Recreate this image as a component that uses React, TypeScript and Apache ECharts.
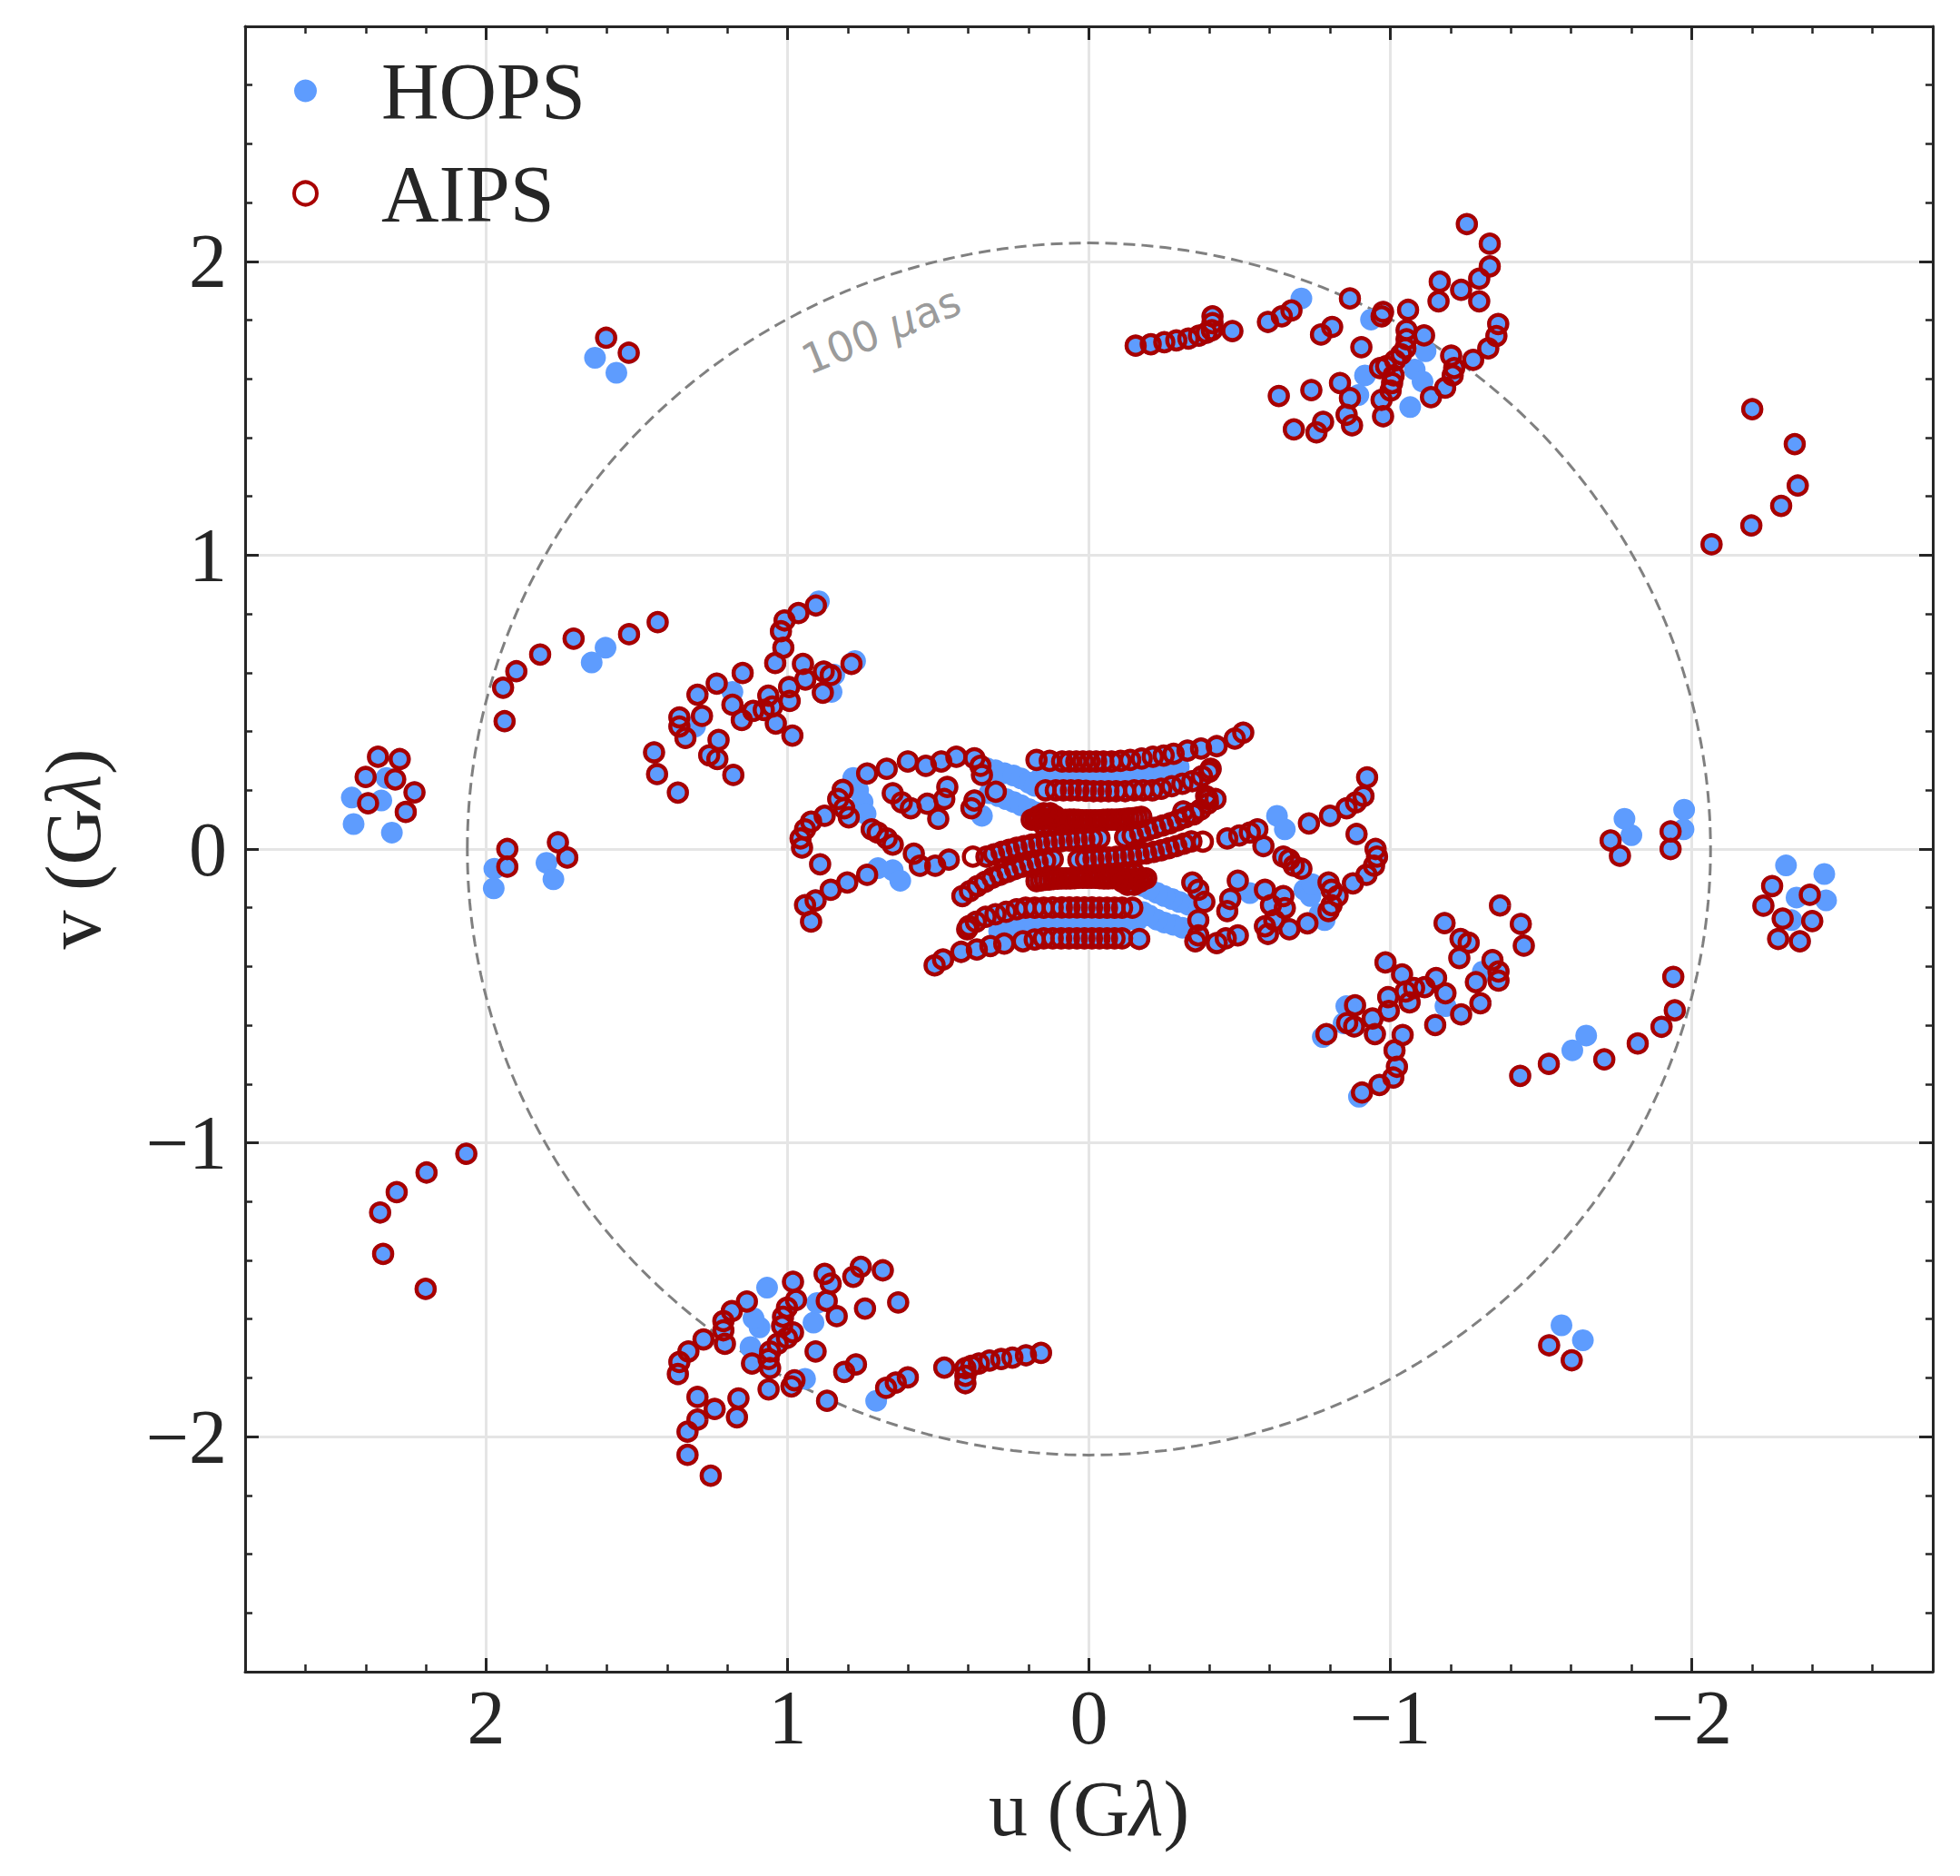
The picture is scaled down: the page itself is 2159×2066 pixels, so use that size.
import { useEffect, useRef } from 'react';
import * as echarts from 'echarts';

type UV = [number, number];

// ---------- (u, v) samples in Gλ ----------
// Points seen by both pipelines, points only in HOPS, points only in AIPS.

// Long baselines, far west / far east
const westKnotBoth: UV[] = [[2.359, 0.314], [2.287, 0.306], [2.400, 0.245], [2.302, 0.237], [2.238, 0.193], [2.392, 0.156], [2.267, 0.126]];
const westKnotHops: UV[] = [[2.331, 0.242], [2.348, 0.165], [2.446, 0.175], [2.440, 0.085], [2.313, 0.056]];
const eastKnotBoth: UV[] = [[-2.359, -0.314], [-2.287, -0.306], [-2.400, -0.245], [-2.302, -0.237], [-2.238, -0.193], [-2.392, -0.156], [-2.267, -0.126]];
const eastKnotHops: UV[] = [[-2.331, -0.242], [-2.348, -0.165], [-2.446, -0.175], [-2.440, -0.085], [-2.313, -0.056]];

const westAxisBoth: UV[] = [[1.930, 0.000], [1.930, -0.060], [1.762, 0.023], [1.731, -0.029]];
const westAxisHops: UV[] = [[1.973, -0.067], [1.975, -0.134], [1.800, -0.047], [1.777, -0.103]];
const eastAxisBoth: UV[] = [[-1.930, 0.000], [-1.930, 0.060], [-1.762, -0.023], [-1.731, 0.029]];
const eastAxisHops: UV[] = [[-1.973, 0.067], [-1.975, 0.134], [-1.800, 0.047], [-1.777, 0.103]];

const westArcBoth: UV[] = [[1.431, 0.772], [1.526, 0.731], [1.710, 0.716], [1.821, 0.662], [1.900, 0.605], [1.944, 0.549], [1.939, 0.435]];
const westArcHops: UV[] = [[1.604, 0.685], [1.650, 0.635]];
const eastArcBoth: UV[] = [[-1.431, -0.772], [-1.526, -0.731], [-1.710, -0.716], [-1.821, -0.662], [-1.900, -0.605], [-1.944, -0.549], [-1.939, -0.435]];
const eastArcHops: UV[] = [[-1.604, -0.685], [-1.650, -0.635]];

const northeastArc: UV[] = [[-2.066, 1.037], [-2.198, 1.101], [-2.297, 1.168], [-2.352, 1.237], [-2.342, 1.378], [-2.201, 1.497]];
const southwestArc: UV[] = [[2.066, -1.037], [2.198, -1.101], [2.297, -1.168], [2.352, -1.237], [2.342, -1.378], [2.201, -1.497]];

const northwestPairBoth: UV[] = [[1.602, 1.740], [1.527, 1.689]];
const northwestPairHops: UV[] = [[1.639, 1.672], [1.568, 1.621]];
const southeastPairBoth: UV[] = [[-1.602, -1.740], [-1.527, -1.689]];
const southeastPairHops: UV[] = [[-1.639, -1.672], [-1.568, -1.621]];

// Northern / southern clusters
const northBoth: UV[] = [
  [-0.155, 1.713], [-0.205, 1.718], [-0.250, 1.725], [-0.290, 1.731], [-0.330, 1.737], [-0.365, 1.747], [-0.390, 1.757], [-0.408, 1.766], [-0.410, 1.790], [-0.410, 1.813], [-0.476, 1.763],
  [-0.594, 1.794], [-0.640, 1.813], [-0.672, 1.833], [-0.866, 1.874], [-0.770, 1.751], [-0.807, 1.777], [-0.904, 1.708],
  [-0.630, 1.542], [-0.738, 1.562], [-0.680, 1.428], [-0.755, 1.418], [-0.777, 1.454], [-0.833, 1.586], [-0.866, 1.535], [-0.855, 1.478], [-0.873, 1.442],
  [-0.971, 1.813], [-0.976, 1.828], [-1.059, 1.835], [-1.054, 1.766], [-1.054, 1.735], [-1.050, 1.704], [-1.112, 1.748],
  [-1.036, 1.684], [-1.016, 1.663], [-0.986, 1.643], [-0.966, 1.637], [-1.011, 1.612], [-1.006, 1.586], [-1.001, 1.560], [-0.971, 1.529], [-0.976, 1.473],
  [-1.135, 1.538], [-1.182, 1.570], [-1.207, 1.612], [-1.212, 1.637], [-1.202, 1.679], [-1.275, 1.665], [-1.325, 1.704], [-1.352, 1.746], [-1.358, 1.787],
  [-1.164, 1.931], [-1.160, 1.864], [-1.235, 1.903], [-1.295, 1.864], [-1.295, 1.941], [-1.330, 1.983], [-1.330, 2.060], [-1.254, 2.127],
];
const northHops: UV[] = [[-0.705, 1.874], [-0.916, 1.612], [-0.894, 1.545], [-0.936, 1.802], [-1.117, 1.694], [-1.066, 1.504], [-1.081, 1.632], [-1.107, 1.591]];
const southBoth: UV[] = [
  [0.159, -1.715], [0.209, -1.723], [0.254, -1.731], [0.291, -1.736], [0.330, -1.741], [0.365, -1.751], [0.390, -1.759], [0.410, -1.767], [0.410, -1.793], [0.410, -1.818], [0.480, -1.765],
  [0.601, -1.798], [0.641, -1.816], [0.673, -1.834], [0.869, -1.878], [0.773, -1.754], [0.812, -1.780], [0.907, -1.710],
  [0.633, -1.543], [0.743, -1.564], [0.684, -1.434], [0.757, -1.422], [0.782, -1.456], [0.837, -1.590], [0.870, -1.538], [0.857, -1.479], [0.877, -1.446],
  [0.977, -1.808], [0.987, -1.829], [1.063, -1.839], [1.058, -1.767], [1.063, -1.736], [1.058, -1.710], [1.118, -1.751],
  [1.033, -1.684], [1.002, -1.664], [0.982, -1.645], [1.018, -1.623], [1.015, -1.592], [1.002, -1.561], [0.972, -1.535], [0.982, -1.473],
  [1.135, -1.540], [1.185, -1.573], [1.213, -1.607], [1.213, -1.638], [1.208, -1.684], [1.279, -1.669], [1.329, -1.710], [1.359, -1.746], [1.364, -1.787],
  [1.163, -1.870], [1.168, -1.934], [1.242, -1.906], [1.299, -1.865], [1.299, -1.942], [1.332, -1.983], [1.332, -2.062], [1.255, -2.133],
];
const southHops: UV[] = [[0.706, -1.878], [0.914, -1.612], [0.902, -1.545], [0.942, -1.803], [1.123, -1.695], [1.068, -1.493], [1.093, -1.628], [1.113, -1.597]];

// Intermediate baselines west / east of the core
const westMidBoth: UV[] = [
  [1.443, 0.329], [1.433, 0.255], [1.364, 0.192], [1.359, 0.448], [1.359, 0.417], [1.339, 0.378], [1.299, 0.525], [1.284, 0.453],
  [1.235, 0.563], [1.149, 0.599], [1.183, 0.491], [1.152, 0.439], [1.229, 0.371], [1.260, 0.319], [1.233, 0.306], [1.180, 0.252],
  [1.114, 0.470], [1.079, 0.473], [1.051, 0.485], [1.064, 0.522], [1.039, 0.427], [0.993, 0.504], [0.995, 0.551], [0.984, 0.386],
  [1.041, 0.633], [1.014, 0.685], [1.022, 0.741], [1.010, 0.778], [0.964, 0.803], [0.906, 0.829],
  [0.949, 0.630], [0.941, 0.577], [0.880, 0.604], [0.857, 0.592], [0.883, 0.532], [0.788, 0.630],
];
const westMidHops: UV[] = [[1.183, 0.535], [0.854, 0.535], [0.896, 0.843], [1.307, 0.417], [0.845, 0.593], [0.776, 0.640]];
const eastMidBoth: UV[] = [
  [-1.443, -0.329], [-1.433, -0.255], [-1.364, -0.192], [-1.359, -0.448], [-1.359, -0.417], [-1.339, -0.378], [-1.299, -0.525], [-1.284, -0.453],
  [-1.235, -0.563], [-1.149, -0.599], [-1.183, -0.491], [-1.152, -0.439], [-1.229, -0.371], [-1.260, -0.319], [-1.233, -0.306], [-1.180, -0.252],
  [-1.114, -0.470], [-1.079, -0.473], [-1.051, -0.485], [-1.064, -0.522], [-1.039, -0.427], [-0.993, -0.504], [-0.995, -0.551], [-0.984, -0.386],
  [-1.041, -0.633], [-1.014, -0.685], [-1.022, -0.741], [-1.010, -0.778], [-0.964, -0.803], [-0.906, -0.829],
  [-0.949, -0.630], [-0.941, -0.577], [-0.880, -0.604], [-0.857, -0.592], [-0.883, -0.532], [-0.788, -0.630],
];
const eastMidHops: UV[] = [[-1.183, -0.535], [-0.854, -0.535], [-0.896, -0.843], [-1.307, -0.417], [-0.845, -0.593], [-0.776, -0.640]];

// Loops either side of the short-baseline core
const westLoopBoth: UV[] = [
  [0.952, 0.005], [0.957, 0.036], [0.942, 0.067], [0.922, 0.093], [0.877, 0.113], [0.832, 0.170], [0.817, 0.201], [0.812, 0.139], [0.797, 0.108],
  [0.892, -0.052], [0.736, 0.257], [0.671, 0.273], [0.601, 0.298], [0.541, 0.283], [0.490, 0.298], [0.440, 0.314], [0.380, 0.309], [0.360, 0.283],
  [0.355, 0.252], [0.309, 0.195], [0.380, 0.165], [0.390, 0.139], [0.500, 0.103], [0.470, 0.211], [0.480, 0.170], [0.536, 0.154],
  [0.651, 0.190], [0.621, 0.159], [0.591, 0.139], [0.701, 0.056], [0.671, 0.036], [0.651, 0.015], [0.721, 0.067],
  [0.581, -0.016], [0.561, -0.057], [0.510, -0.057], [0.465, -0.036], [0.736, -0.088], [0.802, -0.114], [0.857, -0.139], [0.907, -0.175], [0.942, -0.191], [0.922, -0.247],
];
const westLoopHops: UV[] = [[0.355, 0.113], [0.651, -0.072], [0.626, -0.108], [0.700, -0.065], [0.782, 0.242], [0.766, 0.200], [0.751, 0.160], [0.741, 0.120]];
const westLoopAips: UV[] = [[0.385, -0.026]];
const eastLoopBoth: UV[] = [
  [-0.730, 0.087], [-0.800, 0.113], [-0.855, 0.139], [-0.886, 0.159], [-0.911, 0.180], [-0.923, 0.244], [-0.888, 0.051],
  [-0.951, 0.000], [-0.956, -0.026], [-0.946, -0.057], [-0.921, -0.088], [-0.876, -0.117], [-0.795, -0.114], [-0.805, -0.139], [-0.825, -0.160], [-0.805, -0.191], [-0.795, -0.211], [-0.725, -0.253],
  [-0.459, 0.036], [-0.499, 0.046], [-0.534, 0.056], [-0.559, 0.067], [-0.579, 0.010], [-0.645, -0.026], [-0.665, -0.036], [-0.680, -0.057], [-0.705, -0.067],
  [-0.494, -0.108], [-0.469, -0.170], [-0.459, -0.211], [-0.584, -0.139], [-0.604, -0.191], [-0.645, -0.160], [-0.650, -0.201], [-0.615, -0.242], [-0.584, -0.263],
  [-0.494, -0.294], [-0.454, -0.304], [-0.424, -0.320], [-0.363, -0.294], [-0.353, -0.314], [-0.594, -0.289], [-0.665, -0.273],
  [-0.343, -0.114], [-0.363, -0.139], [-0.383, -0.180], [-0.363, -0.242],
];
const eastLoopHops: UV[] = [[-0.624, 0.113], [-0.650, 0.067], [-0.534, -0.150], [-0.715, -0.139], [-0.735, -0.160], [-0.765, -0.222], [-0.782, -0.242], [-0.741, -0.120]];
const eastLoopAips: UV[] = [[-0.378, 0.025]];

// Short-baseline core: near-horizontal tracks
const coreRowTop: UV[] = [
  [0.174, 0.303], [0.130, 0.300], [0.089, 0.298], [0.065, 0.298], [0.042, 0.298], [0.020, 0.298], [-0.002, 0.298], [-0.024, 0.298], [-0.048, 0.298], [-0.075, 0.298],
  [-0.105, 0.300], [-0.137, 0.303], [-0.175, 0.308], [-0.212, 0.314], [-0.248, 0.318], [-0.281, 0.324], [-0.327, 0.335], [-0.372, 0.342], [-0.424, 0.350], [-0.484, 0.376], [-0.512, 0.396],
];
const coreRowBottom: UV[] = [
  [0.512, -0.396], [0.484, -0.376], [0.424, -0.350], [0.372, -0.342], [0.327, -0.330], [0.281, -0.322], [0.219, -0.314], [0.180, -0.308], [0.150, -0.304], [0.120, -0.304],
  [0.092, -0.304], [0.066, -0.304], [0.040, -0.304], [0.015, -0.304], [-0.010, -0.304], [-0.035, -0.304], [-0.060, -0.304], [-0.085, -0.304], [-0.110, -0.304], [-0.167, -0.306],
];
const coreRowUpper: UV[] = [
  [0.144, 0.200], [0.110, 0.200], [0.085, 0.200], [0.060, 0.200], [0.035, 0.200], [0.010, 0.198], [-0.015, 0.197], [-0.040, 0.197], [-0.065, 0.197], [-0.090, 0.197],
  [-0.120, 0.197], [-0.150, 0.200], [-0.180, 0.200], [-0.210, 0.200], [-0.240, 0.205], [-0.275, 0.214], [-0.310, 0.222], [-0.343, 0.231], [-0.375, 0.248], [-0.398, 0.262], [-0.404, 0.273],
];
const coreRowLower: UV[] = [
  [0.404, -0.273], [0.398, -0.262], [0.375, -0.248], [0.343, -0.231], [0.310, -0.222], [0.275, -0.214], [0.240, -0.205], [0.210, -0.200], [0.180, -0.200], [0.150, -0.200],
  [0.120, -0.199], [0.090, -0.199], [0.065, -0.199], [0.040, -0.199], [0.015, -0.199], [-0.010, -0.199], [-0.035, -0.200], [-0.060, -0.200], [-0.085, -0.200], [-0.110, -0.200], [-0.144, -0.200],
];
// Dense tracks just above and below the v = 0 line
const coreBlobNorth: UV[] = [
  [0.190, 0.100], [0.178, 0.101], [0.166, 0.102], [0.154, 0.103], [0.142, 0.103], [0.130, 0.103], [0.118, 0.101], [0.106, 0.099], [0.092, 0.098], [0.078, 0.099],
  [0.064, 0.100], [0.050, 0.100], [0.036, 0.099], [0.022, 0.098], [0.008, 0.098], [-0.006, 0.098], [-0.020, 0.098], [-0.034, 0.098], [-0.048, 0.099], [-0.062, 0.100],
  [-0.076, 0.100], [-0.090, 0.100], [-0.104, 0.101], [-0.118, 0.102], [-0.132, 0.104], [-0.146, 0.105], [-0.160, 0.107], [-0.174, 0.109],
  [0.150, 0.122], [0.128, 0.122], [0.152, 0.084], [0.130, 0.084], [0.168, 0.112], [0.112, 0.112],
];
const coreBlobSouth: UV[] = [
  [-0.190, -0.100], [-0.178, -0.101], [-0.166, -0.102], [-0.154, -0.103], [-0.142, -0.103], [-0.130, -0.103], [-0.118, -0.101], [-0.106, -0.099], [-0.092, -0.098], [-0.078, -0.099],
  [-0.064, -0.100], [-0.050, -0.100], [-0.036, -0.099], [-0.022, -0.098], [-0.008, -0.098], [0.006, -0.098], [0.020, -0.098], [0.034, -0.098], [0.048, -0.099], [0.062, -0.100],
  [0.076, -0.100], [0.090, -0.100], [0.104, -0.101], [0.118, -0.102], [0.132, -0.104], [0.146, -0.105], [0.160, -0.107], [0.174, -0.109],
  [-0.150, -0.122], [-0.128, -0.122], [-0.152, -0.084], [-0.130, -0.084], [-0.168, -0.112], [-0.112, -0.112],
];
// Diagonal tracks crossing the core
const coreDiagonalA: UV[] = [
  [0.340, -0.026], [0.315, -0.018], [0.290, -0.010], [0.265, -0.003], [0.240, 0.004], [0.215, 0.010], [0.190, 0.015], [0.165, 0.019],
  [0.140, 0.022], [0.115, 0.025], [0.090, 0.027], [0.065, 0.029], [0.040, 0.031], [0.015, 0.033], [-0.010, 0.035], [-0.035, 0.037],
];
const coreDiagonalB: UV[] = [
  [-0.340, 0.026], [-0.315, 0.018], [-0.290, 0.010], [-0.265, 0.003], [-0.240, -0.004], [-0.215, -0.010], [-0.190, -0.015], [-0.165, -0.019],
  [-0.140, -0.022], [-0.115, -0.025], [-0.090, -0.027], [-0.065, -0.029], [-0.040, -0.031], [-0.015, -0.033], [0.010, -0.035], [0.035, -0.037],
];
const coreDiagonalC: UV[] = [
  [0.420, -0.160], [0.395, -0.143], [0.370, -0.126], [0.345, -0.112], [0.320, -0.098], [0.295, -0.088], [0.270, -0.078], [0.245, -0.068],
  [0.220, -0.060], [0.195, -0.052], [0.170, -0.045], [0.145, -0.040], [0.120, -0.035],
];
const coreDiagonalD: UV[] = [
  [-0.420, 0.170], [-0.395, 0.155], [-0.370, 0.134], [-0.345, 0.120], [-0.320, 0.108], [-0.295, 0.098], [-0.270, 0.088], [-0.245, 0.080],
  [-0.220, 0.072], [-0.195, 0.064], [-0.170, 0.055], [-0.145, 0.046], [-0.120, 0.040], [-0.313, 0.128], [-0.348, 0.118], [-0.389, 0.180], [-0.394, 0.170],
];
// HOPS-only tracks in the core
const coreHopsNorth: UV[] = [
  [0.340, 0.275], [0.310, 0.268], [0.280, 0.258], [0.250, 0.250], [0.225, 0.240], [0.200, 0.226], [0.180, 0.215],
  [0.330, 0.190], [0.300, 0.180], [0.275, 0.170], [0.250, 0.160], [0.225, 0.149], [0.200, 0.136], [0.180, 0.126],
  [0.160, 0.243], [0.120, 0.245], [0.080, 0.247], [0.040, 0.248], [0.000, 0.248], [-0.040, 0.247], [-0.080, 0.245], [-0.120, 0.245],
  [-0.160, 0.250], [-0.200, 0.257], [-0.250, 0.266], [-0.298, 0.280],
];
const coreHopsSouth: UV[] = [
  [-0.340, -0.275], [-0.310, -0.268], [-0.280, -0.258], [-0.250, -0.250], [-0.225, -0.240], [-0.200, -0.226], [-0.180, -0.215],
  [-0.330, -0.190], [-0.300, -0.180], [-0.275, -0.170], [-0.250, -0.160], [-0.225, -0.149], [-0.200, -0.136], [-0.180, -0.126],
  [-0.160, -0.243], [-0.120, -0.245], [-0.080, -0.247], [-0.040, -0.248], [0.000, -0.248], [0.040, -0.247], [0.080, -0.245], [0.120, -0.245],
  [0.160, -0.250], [0.200, -0.257], [0.250, -0.266], [0.298, -0.280],
];

// ---------- axes ----------
const AXIS_MIN = -2.8;
const AXIS_MAX = 2.8;
const MINOR_STEP = 0.2;
const RING_LABEL = '100 μas';
const RING_LABEL_AT: UV = [0.69, 1.765];
// Baseline length (Gλ) whose fringe spacing is 100 µas
const RING_RADIUS = 1 / ((100e-6 / 3600) * (Math.PI / 180)) / 1e9;

const TEXT = '#262626';
const SERIF = '"Liberation Serif", "Times New Roman", serif';
const HOPS_COLOR = '#5e9cfe';
const AIPS_COLOR = '#a80000';

const bothGroups = [
  westKnotBoth, eastKnotBoth, westAxisBoth, eastAxisBoth, westArcBoth, eastArcBoth, northeastArc, southwestArc,
  northwestPairBoth, southeastPairBoth, northBoth, southBoth, westMidBoth, eastMidBoth, westLoopBoth, eastLoopBoth,
  coreRowTop, coreRowBottom, coreRowUpper, coreRowLower, coreBlobNorth, coreBlobSouth,
  coreDiagonalA, coreDiagonalB, coreDiagonalC, coreDiagonalD,
];
const hopsGroups = [
  westKnotHops, eastKnotHops, westAxisHops, eastAxisHops, westArcHops, eastArcHops, northwestPairHops, southeastPairHops,
  northHops, southHops, westMidHops, eastMidHops, westLoopHops, eastLoopHops, coreHopsNorth, coreHopsSouth,
];
const aipsGroups = [westLoopAips, eastLoopAips];

const tickText = (v: number) => {
  const r = Math.round(v);
  if (Math.abs(v - r) > 1e-6) return '';
  return r < 0 ? '\u2212' + Math.abs(r) : String(r);
};

function buildOption(): echarts.EChartsOption {
  const both = bothGroups.flat();
  const hops = [...both, ...hopsGroups.flat()];
  const aips = [...both, ...aipsGroups.flat()];

  const ring: UV[] = [];
  for (let deg = 0; deg <= 360; deg += 1) {
    const t = (deg * Math.PI) / 180;
    ring.push([RING_RADIUS * Math.cos(t), RING_RADIUS * Math.sin(t)]);
  }

  const gridBox = { left: 270, top: 29, width: 1859, height: 1812, containLabel: false };
  const spine = { show: true, onZero: false, lineStyle: { color: TEXT, width: 3 } };
  const noSpine = { show: false, onZero: false };
  const majorTick = { show: true, inside: true, length: 15, lineStyle: { color: TEXT, width: 3 } };
  const minorTick = { show: true, inside: true, length: 8, lineStyle: { color: TEXT, width: 2.5 } };
  const gridLine = { show: true, lineStyle: { color: '#e5e5e5', width: 3 } };
  const labelStyle = { fontFamily: SERIF, fontSize: 84, color: TEXT, formatter: tickText };
  const nameRich = {
    t: { fontFamily: SERIF, fontSize: 86, color: TEXT },
    l: { fontFamily: SERIF, fontSize: 86, color: TEXT, fontStyle: 'italic' as const },
  };

  const xBase = { type: 'value' as const, min: AXIS_MIN, max: AXIS_MAX, inverse: true };
  const yBase = { type: 'value' as const, min: AXIS_MIN, max: AXIS_MAX };

  return {
    animation: false,
    backgroundColor: '#ffffff',
    grid: [gridBox, { ...gridBox }],
    xAxis: [
      {
        ...xBase, gridIndex: 0, position: 'bottom',
        axisLine: spine, axisTick: majorTick, splitLine: gridLine,
        axisLabel: { ...labelStyle, margin: 8, showMinLabel: false, showMaxLabel: false },
        name: '{t|u (G}{l|λ}{t|)}', nameLocation: 'middle', nameGap: 108,
        nameTextStyle: { rich: nameRich },
      },
      { ...xBase, gridIndex: 0, position: 'top', axisLine: spine, axisTick: majorTick, splitLine: { show: false }, axisLabel: { show: false } },
      { ...xBase, gridIndex: 1, position: 'bottom', interval: MINOR_STEP, axisLine: noSpine, axisTick: minorTick, splitLine: { show: false }, axisLabel: { show: false } },
      { ...xBase, gridIndex: 1, position: 'top', interval: MINOR_STEP, axisLine: noSpine, axisTick: minorTick, splitLine: { show: false }, axisLabel: { show: false } },
    ],
    yAxis: [
      {
        ...yBase, gridIndex: 0, position: 'left',
        axisLine: spine, axisTick: majorTick, splitLine: gridLine,
        axisLabel: { ...labelStyle, margin: 20, showMinLabel: false, showMaxLabel: false },
        name: '{t|v (G}{l|λ}{t|)}', nameLocation: 'middle', nameGap: 146, nameRotate: 90,
        nameTextStyle: { rich: nameRich },
      },
      { ...yBase, gridIndex: 0, position: 'right', axisLine: spine, axisTick: majorTick, splitLine: { show: false }, axisLabel: { show: false } },
      { ...yBase, gridIndex: 1, position: 'left', interval: MINOR_STEP, axisLine: noSpine, axisTick: minorTick, splitLine: { show: false }, axisLabel: { show: false } },
      { ...yBase, gridIndex: 1, position: 'right', interval: MINOR_STEP, axisLine: noSpine, axisTick: minorTick, splitLine: { show: false }, axisLabel: { show: false } },
    ],
    legend: {
      orient: 'vertical',
      left: 322,
      top: 56,
      padding: 0,
      itemWidth: 25,
      itemHeight: 25,
      itemGap: 25,
      selectedMode: false,
      textStyle: { fontFamily: SERIF, fontSize: 88, lineHeight: 84, color: TEXT, padding: [0, 0, 0, 66] },
      data: [{ name: 'HOPS' }, { name: 'AIPS', itemStyle: { borderWidth: 4 } }],
    },
    series: [
      {
        name: 'ring',
        type: 'line',
        xAxisIndex: 0,
        yAxisIndex: 0,
        data: ring,
        showSymbol: false,
        silent: true,
        z: 1,
        lineStyle: { color: '#808080', width: 3, type: [13, 7] },
      },
      {
        name: 'HOPS',
        type: 'scatter',
        xAxisIndex: 0,
        yAxisIndex: 0,
        data: hops,
        symbol: 'circle',
        symbolSize: 24,
        silent: true,
        z: 2,
        itemStyle: { color: HOPS_COLOR, opacity: 1 },
      },
      {
        name: 'AIPS',
        type: 'scatter',
        xAxisIndex: 0,
        yAxisIndex: 0,
        data: aips,
        symbol: 'circle',
        symbolSize: 20,
        silent: true,
        z: 3,
        itemStyle: { color: 'rgba(0,0,0,0)', borderColor: AIPS_COLOR, borderWidth: 4.5, opacity: 1 },
      },
      {
        name: 'ring label',
        type: 'scatter',
        xAxisIndex: 0,
        yAxisIndex: 0,
        data: [RING_LABEL_AT],
        symbolSize: 1,
        silent: true,
        z: 4,
        itemStyle: { color: 'rgba(0,0,0,0)', borderWidth: 0 },
        label: {
          show: true,
          position: 'inside',
          rotate: 22,
          formatter: '{n|100 }{m|μ}{n|as}',
          rich: {
            n: { fontFamily: '"DejaVu Sans", sans-serif', fontSize: 46, color: '#808080' },
            m: { fontFamily: '"DejaVu Sans", sans-serif', fontSize: 46, color: '#808080', fontStyle: 'italic' },
          },
        },
      },
    ],
  };
}

export default function App() {
  const ref = useRef<HTMLDivElement>(null);
  useEffect(() => {
    if (!ref.current) return;
    const chart = echarts.init(ref.current, undefined, { renderer: 'svg' });
    chart.setOption(buildOption());
    return () => chart.dispose();
  }, []);
  return (
    <div
      ref={ref}
      aria-label={RING_LABEL}
      style={{ position: 'absolute', left: 0, top: 0, width: 2159, height: 2066 }}
    />
  );
}
